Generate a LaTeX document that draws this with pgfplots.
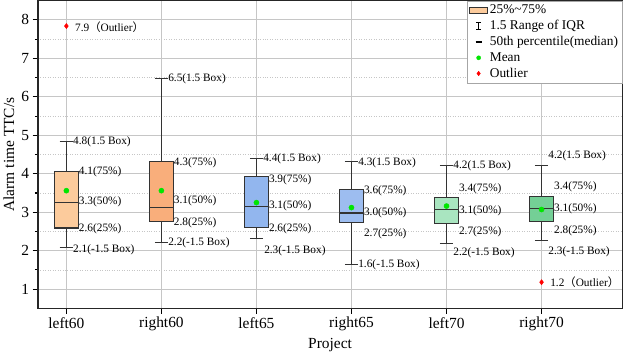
\documentclass[border=0pt]{standalone}
\usepackage{pgfplots}
\pgfplotsset{compat=1.18}
\usepgfplotslibrary{statistics}
\usepackage{fontspec}
\setmainfont{Liberation Serif}
\newfontfamily\cjk{Noto Sans CJK SC}
\definecolor{orA}{HTML}{FCCB9C}
\definecolor{orB}{HTML}{F9AE7B}
\definecolor{blA}{HTML}{92B6EE}
\definecolor{blB}{HTML}{9DBDF0}
\definecolor{grA}{HTML}{A9E5C0}
\definecolor{grB}{HTML}{74CF96}
\definecolor{boxline}{HTML}{333333}
\newcommand{\lab}[3]{\node[anchor=west,inner sep=0pt,font=\fontsize{11}{12}\selectfont] at (axis cs:#1,#2) {#3};}
\begin{document}
\begin{tikzpicture}
\begin{axis}[
  width=566bp, height=298bp, scale only axis,
  xmin=-0.3, xmax=5.85, ymin=0.5, ymax=8.5,
  xtick={0,1,2,3,4,5},
  xticklabels={left60,right60,left65,right65,left70,right70},
  ytick={1,2,3,4,5,6,7,8}, minor y tick num=1,
  /pgf/number format/assume math mode=true,
  tick align=outside, xtick pos=bottom, ytick pos=left,
  major tick length=5bp, minor tick length=3bp,
  ymajorgrids, yminorgrids, xmajorgrids,
  major grid style={gray!45, line width=0.8pt},
  minor grid style={gray!45, dotted},
  axis line style={line width=1.3pt, black!85},
  tick style={black, line width=1pt},
  ticklabel style={font=\fontsize{15}{16}\selectfont},
  xlabel={Project}, ylabel={Alarm time TTC/s},
  label style={font=\fontsize{15}{16}\selectfont},
  boxplot/draw direction=y,
  boxplot/box extend=0.25, boxplot/whisker extend=0.14,
  legend style={at={(1,1)}, anchor=north east, font=\fontsize{13}{14}\selectfont,
    draw=gray!70, fill=white, row sep=1pt, inner sep=2pt},
  legend cell align=left,
]
\addplot[forget plot, fill=orA, draw=boxline, line width=1pt,
  boxplot prepared={draw position=0, lower whisker=2.09, lower quartile=2.59,
  median=3.26, upper quartile=4.05, upper whisker=4.83}] coordinates {};
\addplot[forget plot, fill=orB, draw=boxline, line width=1pt,
  boxplot prepared={draw position=1, lower whisker=2.22, lower quartile=2.77,
  median=3.13, upper quartile=4.31, upper whisker=6.48}] coordinates {};
\addplot[forget plot, fill=blA, draw=boxline, line width=1pt,
  boxplot prepared={draw position=2, lower whisker=2.31, lower quartile=2.60,
  median=3.15, upper quartile=3.94, upper whisker=4.40}] coordinates {};
\addplot[forget plot, fill=blB, draw=boxline, line width=1pt,
  boxplot prepared={draw position=3, lower whisker=1.65, lower quartile=2.73,
  median=2.98, upper quartile=3.58, upper whisker=4.31}] coordinates {};
\addplot[forget plot, fill=grA, draw=boxline, line width=1pt,
  boxplot prepared={draw position=4, lower whisker=2.19, lower quartile=2.71,
  median=3.06, upper quartile=3.38, upper whisker=4.22}] coordinates {};
\addplot[forget plot, fill=grB, draw=boxline, line width=1pt,
  boxplot prepared={draw position=5, lower whisker=2.27, lower quartile=2.77,
  median=3.10, upper quartile=3.40, upper whisker=4.22}] coordinates {};
% means
\addplot[forget plot, only marks, mark=*, mark size=2.5pt, color={rgb,255:red,0;green,230;blue,0}]
  coordinates {(0,3.56) (1,3.56) (2,3.25) (3,3.12) (4,3.16) (5,3.07)};
% outliers
\addplot[forget plot, only marks, mark=diamond*, mark size=2.5pt, red]
  coordinates {(0,7.84) (5,1.18)};
% labels
\lab{0.09}{7.80}{7.9{\cjk （}Outlier{\cjk ）}}
\lab{0.07}{4.83}{4.8(1.5 Box)}
\lab{0.13}{4.05}{4.1(75\%)}
\lab{0.13}{3.26}{3.3(50\%)}
\lab{0.13}{2.57}{2.6(25\%)}
\lab{0.07}{2.02}{2.1(-1.5 Box)}
\lab{1.07}{6.46}{6.5(1.5 Box)}
\lab{1.13}{4.29}{4.3(75\%)}
\lab{1.13}{3.31}{3.1(50\%)}
\lab{1.13}{2.73}{2.8(25\%)}
\lab{1.07}{2.21}{2.2(-1.5 Box)}
\lab{2.07}{4.40}{4.4(1.5 Box)}
\lab{2.13}{3.85}{3.9(75\%)}
\lab{2.13}{3.18}{3.1(50\%)}
\lab{2.13}{2.57}{2.6(25\%)}
\lab{2.08}{2.00}{2.3(-1.5 Box)}
\lab{3.07}{4.28}{4.3(1.5 Box)}
\lab{3.13}{3.56}{3.6(75\%)}
\lab{3.13}{2.98}{3.0(50\%)}
\lab{3.13}{2.43}{2.7(25\%)}
\lab{3.07}{1.63}{1.6(-1.5 Box)}
\lab{4.07}{4.20}{4.2(1.5 Box)}
\lab{4.13}{3.61}{3.4(75\%)}
\lab{4.13}{3.04}{3.1(50\%)}
\lab{4.13}{2.49}{2.7(25\%)}
\lab{4.07}{1.94}{2.2(-1.5 Box)}
\lab{5.07}{4.47}{4.2(1.5 Box)}
\lab{5.13}{3.67}{3.4(75\%)}
\lab{5.13}{3.10}{3.1(50\%)}
\lab{5.13}{2.53}{2.8(25\%)}
\lab{5.07}{1.97}{2.3(-1.5 Box)}
\lab{5.09}{1.19}{1.2{\cjk （}Outlier{\cjk ）}}
% legend
\addlegendimage{area legend, fill=orA, draw=boxline, line width=0.8pt}
\addlegendentry{25\%\textasciitilde75\%}
\addlegendimage{legend image code/.code={\draw[black, line width=0.9pt] (0.3cm,-0.12cm)--(0.3cm,0.12cm) (0.22cm,-0.12cm)--(0.38cm,-0.12cm) (0.22cm,0.12cm)--(0.38cm,0.12cm);}}
\addlegendentry{1.5 Range of IQR}
\addlegendimage{legend image code/.code={\draw[black, line width=1.2pt] (0.2cm,0cm)--(0.4cm,0cm);}}
\addlegendentry{50th percentile(median)}
\addlegendimage{only marks, mark=*, mark size=2pt, color={rgb,255:red,0;green,230;blue,0}}
\addlegendentry{Mean}
\addlegendimage{only marks, mark=diamond*, mark size=2.2pt, red}
\addlegendentry{Outlier}
\end{axis}
\end{tikzpicture}
\end{document}
